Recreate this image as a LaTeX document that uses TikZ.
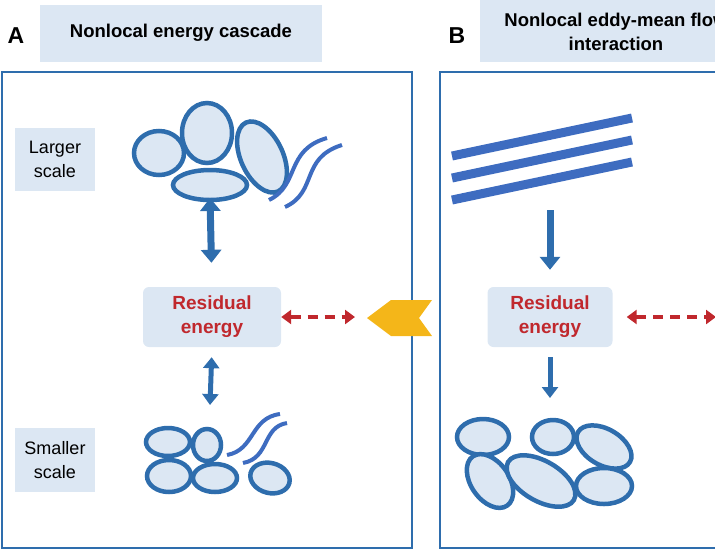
\documentclass[tikz,border=0pt]{standalone}
\usepackage{fontspec}
\setmainfont{Liberation Sans}
\usetikzlibrary{arrows.meta, positioning}
\definecolor{frameblue}{HTML}{2E6DAD}
\definecolor{paleblue}{HTML}{DCE7F3}
\definecolor{resred}{HTML}{C0282D}
\definecolor{flowyellow}{HTML}{F4B619}
\definecolor{stripeblue}{HTML}{3E6CC0}

\tikzset{
  tag/.style={fill=paleblue, align=center, font=\fontsize{18}{24}\selectfont},
  title/.style={fill=paleblue, align=center, font=\bfseries\fontsize{18.5}{24}\selectfont},
  resid/.style={fill=paleblue, rounded corners=6pt, align=center, text=resred,
    font=\bfseries\fontsize{19}{24}\selectfont, minimum width=138pt, minimum height=60pt},
  eddy/.style={draw=frameblue, fill=paleblue, line width=4.5pt},
  wave/.style={draw=stripeblue, line width=4pt},
  panel/.style={draw=frameblue, line width=1.6pt},
  bigarrow/.style={frameblue, line width=7pt, -{Triangle[width=20pt,length=13pt]}},
  dasharrow/.style={resred, line width=4.5pt, dash pattern=on 10pt off 7pt,
    {Triangle[width=14pt,length=10pt]}-{Triangle[width=14pt,length=10pt]}},
}

\begin{document}
\begin{tikzpicture}[x=1pt, y=-1pt]
\useasboundingbox (0,0) rectangle (715,550);
\clip (0,0) rectangle (715,550);

% panels
\draw[panel] (2,72) rectangle (412,548);
\draw[panel] (440,72) rectangle (722,548);

% titles
\node[font=\bfseries\fontsize{23}{26}\selectfont] (labA) at (16,36) {A};
\node[font=\bfseries\fontsize{23}{26}\selectfont] (labB) at (457,36) {B};
\node[title, minimum width=282pt, minimum height=57pt] (titA) at (181,33) {Nonlocal energy cascade};
\fill[paleblue] (480,0) rectangle (715,62);
\node[title, fill=none] (titB) at (616,32) {Nonlocal eddy-mean flow\\interaction};

% scale tags
\node[tag, minimum width=80pt, minimum height=63pt] (large) at (55,159) {Larger\\scale};
\node[tag, minimum width=80pt, minimum height=64pt] (small) at (55,460) {Smaller\\scale};

% residual boxes
\node[resid] (resA) at (212,317) {Residual\\energy};
\node[resid, minimum width=125pt] (resB) at (550,317) {Residual\\energy};

% large eddies (A)
\draw[eddy] (159,153) ellipse [x radius=25, y radius=22];
\draw[eddy] (207,133) ellipse [x radius=25, y radius=30];
\draw[eddy, rotate around={25:(262,157)}] (262,157) ellipse [x radius=21, y radius=38];
\draw[eddy] (210,185) ellipse [x radius=37, y radius=15];
\draw[wave] (269,200) .. controls (300,185) and (285,150) .. (327,138);
\draw[wave] (285,207) .. controls (318,192) and (300,158) .. (342,145);

% small eddies (A)
\draw[eddy] (168,442) ellipse [x radius=22, y radius=14];
\draw[eddy] (207,445) ellipse [x radius=14, y radius=16];
\draw[eddy] (169,476) ellipse [x radius=22, y radius=16];
\draw[eddy] (215,478) ellipse [x radius=22, y radius=14];
\draw[eddy, rotate around={-15:(270,478)}] (270,478) ellipse [x radius=20, y radius=15];
\draw[wave] (227,455) .. controls (255,450) and (250,418) .. (280,414);
\draw[wave] (243,463) .. controls (270,458) and (262,427) .. (287,423);

% mean flow stripes (B)
\coordinate (s1a) at (452,156); \coordinate (s1b) at (632,118);
\draw[stripeblue, line width=9pt] (s1a) -- (s1b);
\draw[stripeblue, line width=9pt] ([yshift=-22pt]s1a) -- ([yshift=-22pt]s1b);
\draw[stripeblue, line width=9pt] ([yshift=-44pt]s1a) -- ([yshift=-44pt]s1b);

% eddies (B)
\draw[eddy] (483,437) ellipse [x radius=26, y radius=18];
\draw[eddy] (553,437) ellipse [x radius=21, y radius=17];
\draw[eddy, rotate around={35:(490,481)}] (490,481) ellipse [x radius=19, y radius=30];
\draw[eddy, rotate around={-30:(541,481)}] (541,481) ellipse [x radius=38, y radius=20];
\draw[eddy, rotate around={-30:(604,447)}] (604,447) ellipse [x radius=30, y radius=18];
\draw[eddy] (604,486) ellipse [x radius=28, y radius=18];

% arrows
\coordinate (topA) at (210,198); \coordinate (botA) at (210,405);
\draw[bigarrow, {Triangle[width=20pt,length=13pt]}-{Triangle[width=20pt,length=13pt]}, shorten >=24pt] (topA) -- (resA.north);
\draw[frameblue, line width=5pt, {Triangle[width=16pt,length=11pt]}-{Triangle[width=16pt,length=11pt]}, shorten <=10pt] (resA.south) -- (botA);
\coordinate (stripes) at (550,210); \coordinate (botB) at (550,398);
\draw[bigarrow, shorten >=17pt] (stripes) -- (resB.north);
\draw[frameblue, line width=5pt, -{Triangle[width=16pt,length=11pt]}, shorten <=10pt] (resB.south) -- (botB);
\coordinate (outA) at (355,317); \coordinate (outB) at (716,317);
\draw[dasharrow] (resA.east) -- (outA);
\draw[dasharrow, shorten <=14pt] (resB.east) -- (outB);

% flow between panels
\fill[flowyellow] (367,318) -- (391,300) -- (432,300) -- (419,318) -- (432,336) -- (391,336) -- cycle;
\end{tikzpicture}
\end{document}
